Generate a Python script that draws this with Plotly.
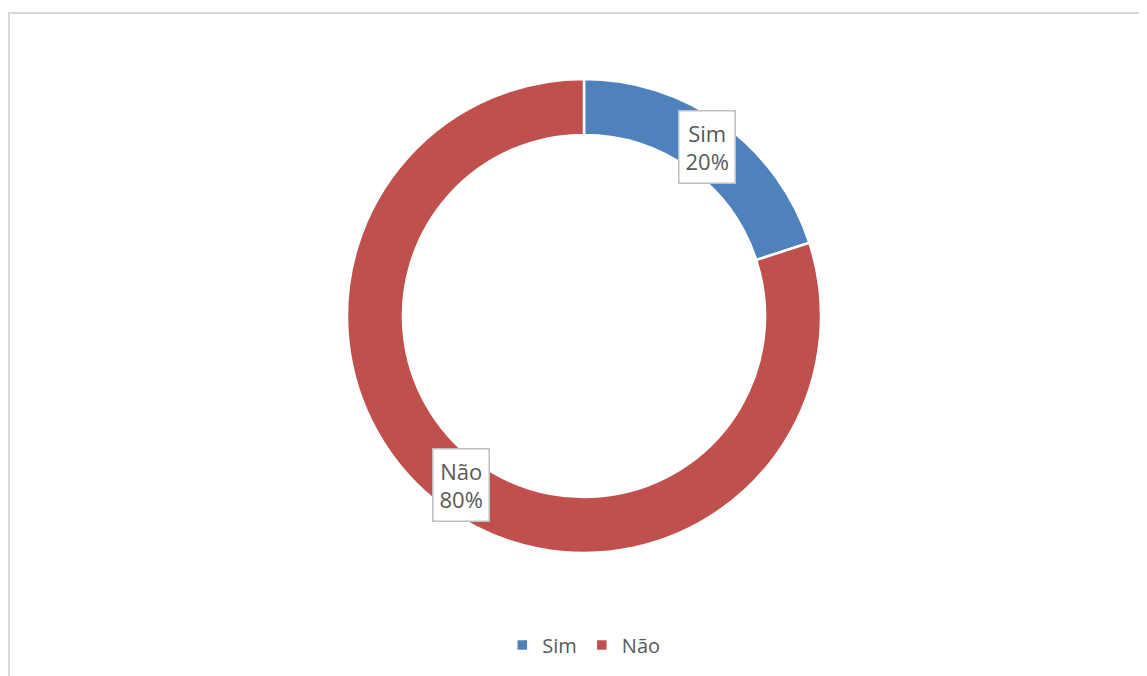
import math
import plotly.graph_objects as go

labels = ["Sim", "Não"]
values = [20, 80]
colors = ["#4F81BD", "#C0504D"]

W, H = 1147, 676
OFF = 8  # page body margin in the browser
cx_px, cy_px = 584 - OFF, 316 - OFF
r_out = 237
hole = 0.764

dom_x = [(cx_px - r_out) / W, (cx_px + r_out) / W]
dom_y = [(H - cy_px - r_out) / H, (H - cy_px + r_out) / H]

FONT = "Open Sans, Noto Sans, sans-serif"

fig = go.Figure()
fig.add_trace(go.Pie(
    labels=labels, values=values, hole=hole, sort=False,
    direction="clockwise", rotation=0,
    marker=dict(colors=colors, line=dict(color="white", width=2.5)),
    textinfo="none", hoverinfo="label+percent",
    domain=dict(x=dom_x, y=dom_y),
))

# boxed data labels positioned at slice midpoints on the ring centre line
total = sum(values)
r_mid = r_out * (1 + hole) / 2
cum = 0
annotations = []
for lab, v in zip(labels, values):
    mid = (cum + v / 2) / total * 2 * math.pi
    cum += v
    x = (cx_px + r_mid * math.sin(mid)) / W
    y = (H - cy_px + r_mid * math.cos(mid)) / H
    pct = round(v / total * 100)
    annotations.append(dict(
        x=x, y=y, xref="paper", yref="paper", showarrow=False,
        xanchor="center", yanchor="middle",
        text=f"{lab}<br>{pct}%", align="center",
        font=dict(family=FONT, size=22, color="#595959"),
        bgcolor="white", bordercolor="#BFBFBF", borderwidth=1.5, borderpad=6,
    ))

fig.update_layout(
    width=W, height=H,
    margin=dict(l=0, r=0, t=0, b=0),
    paper_bgcolor="white", plot_bgcolor="white",
    showlegend=True,
    legend=dict(orientation="h", x=0.502, xanchor="center", y=(H - 645 + OFF) / H, yanchor="middle",
                font=dict(family=FONT, size=20, color="#595959"),
                itemwidth=30, traceorder="normal"),
    annotations=annotations,
    shapes=[dict(type="rect", xref="paper", yref="paper",
                 x0=(9 - OFF) / W, x1=1.02, y0=-0.02, y1=1 - (13 - OFF) / H,
                 line=dict(color="#D9D9D9", width=2), fillcolor="rgba(0,0,0,0)", layer="below")],
)

fig.write_html("out.html")
